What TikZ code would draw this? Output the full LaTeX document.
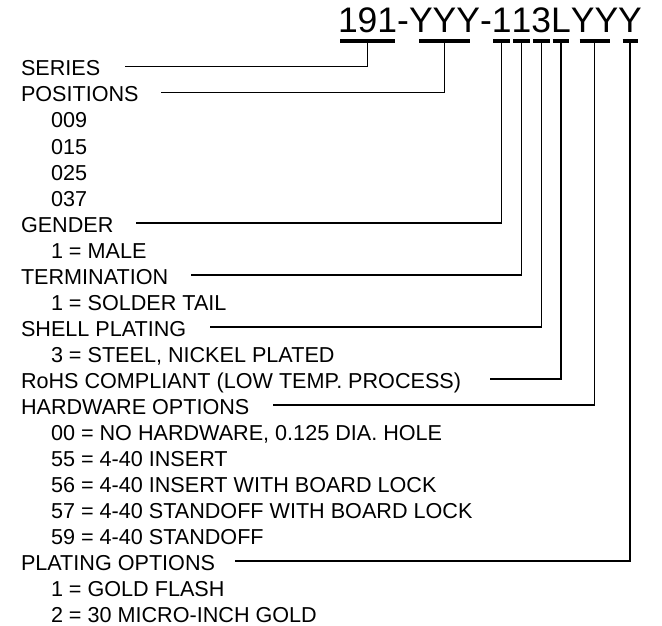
\documentclass[tikz,border=0pt]{standalone}
\usepackage{fontspec}
\setmainfont{Liberation Sans}
\begin{document}
\begin{tikzpicture}[x=1pt,y=1pt,
  lbl/.style={anchor=base west,inner sep=0pt,outer sep=0pt,font=\fontsize{21.6}{25}\selectfont},
  ttl/.style={anchor=base west,inner sep=0pt,outer sep=0pt,font=\fontsize{35.5}{40}\selectfont},
  conn/.style={line width=1.4pt,line cap=rect},
  ulbar/.style={line width=3.2pt}]
\useasboundingbox[fill=white] (0,0) rectangle (662,-626);
% title
\node[ttl] (t1) at (338,-33) {191};
\node[ttl] (d1) at (t1.base east) {-};
\node[ttl] (t2) at (d1.base east) {YYY};
\node[ttl] (d2) at (t2.base east) {-};
\node[ttl] (t3) at (d2.base east) {1};
\node[ttl] (t4) at (t3.base east) {1};
\node[ttl] (t5) at (t4.base east) {3};
\node[ttl] (t6) at (t5.base east) {L};
\node[ttl] (t7) at (t6.base east) {YY};
\node[ttl] (t8) at (t7.base east) {Y};
\foreach \n/\w in {1/27.5,2/25.5,3/8.3,4/8.3,5/8.3,6/8.3,7/15,8/7.5}{
  \coordinate (b\n) at ([yshift=-8]t\n.base);
  \draw[ulbar] ([xshift=-\w]b\n) -- ([xshift=\w]b\n);
}
% labels
\newcommand{\rowy}[1]{-76-26*#1}
\node[lbl] (series) at (21,{\rowy{0}}) {SERIES};
\node[lbl] (positions) at (21,{\rowy{1}}) {POSITIONS};
\node[lbl] (p1) at (51,{\rowy{2}}) {009};
\node[lbl] (p2) at (51,{\rowy{3}}) {015};
\node[lbl] (p3) at (51,{\rowy{4}}) {025};
\node[lbl] (p4) at (51,{\rowy{5}}) {037};
\node[lbl] (gender) at (21,{\rowy{6}}) {GENDER};
\node[lbl] (g1) at (51,{\rowy{7}}) {1 = MALE};
\node[lbl] (termination) at (21,{\rowy{8}}) {TERMINATION};
\node[lbl] (te1) at (51,{\rowy{9}}) {1 = SOLDER TAIL};
\node[lbl] (shell) at (21,{\rowy{10}}) {SHELL PLATING};
\node[lbl] (s1) at (51,{\rowy{11}}) {3 = STEEL, NICKEL PLATED};
\node[lbl] (rohs) at (21,{\rowy{12}}) {RoHS COMPLIANT (LOW TEMP. PROCESS)};
\node[lbl] (hardware) at (21,{\rowy{13}}) {HARDWARE OPTIONS};
\node[lbl] (h1) at (51,{\rowy{14}}) {00 = NO HARDWARE, 0.125 DIA. HOLE};
\node[lbl] (h2) at (51,{\rowy{15}}) {55 = 4-40 INSERT};
\node[lbl] (h3) at (51,{\rowy{16}}) {56 = 4-40 INSERT WITH BOARD LOCK};
\node[lbl] (h4) at (51,{\rowy{17}}) {57 = 4-40 STANDOFF WITH BOARD LOCK};
\node[lbl] (h5) at (51,{\rowy{18}}) {59 = 4-40 STANDOFF};
\node[lbl] (plating) at (21,{\rowy{19}}) {PLATING OPTIONS};
\node[lbl] (pl1) at (51,{\rowy{20}}) {1 = GOLD FLASH};
\node[lbl] (pl2) at (51,{\rowy{21}}) {2 = 30 MICRO-INCH GOLD};
% connectors
\foreach \a/\b/\g in {series/b1/25,positions/b2/23.5,gender/b3/23.5,termination/b4/23.5,shell/b5/24,rohs/b6/30,hardware/b7/24,plating/b8/21}{
  \draw[conn] ([shift={(\g,9.2)}]\a.base east) -| (\b);
}
\end{tikzpicture}
\end{document}
